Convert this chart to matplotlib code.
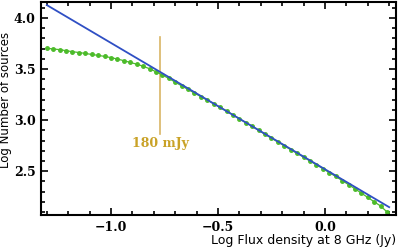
import matplotlib
matplotlib.use('Agg')
import matplotlib.pyplot as plt
from matplotlib.ticker import MultipleLocator

# power-law fit (blue)
x_fit = [-1.30, 0.30]
y_fit = [4.127, 2.147]

# source counts (green)
x_counts = [-1.30, -1.27, -1.24, -1.21, -1.18, -1.15, -1.12, -1.09, -1.06, -1.03,
            -1.00, -0.97, -0.94, -0.91, -0.88, -0.85, -0.82, -0.79, -0.76, -0.73,
            -0.70, -0.67, -0.64, -0.61, -0.58, -0.55, -0.52, -0.49, -0.46, -0.43,
            -0.40, -0.37, -0.34, -0.31, -0.28, -0.25, -0.22, -0.19, -0.16, -0.13,
            -0.10, -0.07, -0.04, -0.01, 0.02, 0.05, 0.08, 0.11, 0.14, 0.17,
            0.20, 0.23, 0.26, 0.29]
y_counts = [3.703, 3.697, 3.690, 3.680, 3.670, 3.662, 3.653, 3.643, 3.634, 3.624,
            3.612, 3.598, 3.582, 3.565, 3.548, 3.528, 3.503, 3.474, 3.442, 3.408,
            3.372, 3.336, 3.300, 3.265, 3.230, 3.196, 3.160, 3.126, 3.090, 3.052,
            3.014, 2.975, 2.940, 2.900, 2.860, 2.823, 2.785, 2.748, 2.710, 2.674,
            2.637, 2.600, 2.562, 2.525, 2.486, 2.448, 2.408, 2.368, 2.327, 2.285,
            2.242, 2.200, 2.158, 2.100]

x_cut = -0.77
y_cut = [2.865, 3.815]
cut_label = '180 mJy'

fig = plt.figure(figsize=(3.99, 2.49), dpi=100)
ax = fig.add_axes([0.1028, 0.1365, 0.8897, 0.8555])

ax.plot(x_counts, y_counts, '-o', color='#4cbb2a', lw=0.9, markersize=2.5, zorder=2)
ax.plot(x_fit, y_fit, '-', color='#2f4fc4', lw=1.3, zorder=3)
ax.plot([x_cut, x_cut], y_cut, '-', color='#d9b565', lw=1.2, zorder=1)
ax.text(x_cut, 2.775, cut_label, color='#c9a227', fontsize=9, fontweight='bold',
        family='DejaVu Serif', ha='center', va='center')

ax.set_xlim(-1.327, 0.332)
ax.set_ylim(2.07, 4.157)
ax.xaxis.set_major_locator(MultipleLocator(0.5))
ax.xaxis.set_minor_locator(MultipleLocator(0.1))
ax.yaxis.set_major_locator(MultipleLocator(0.5))
ax.yaxis.set_minor_locator(MultipleLocator(0.1))
ax.tick_params(which='both', direction='in', top=True, right=True, width=1.2)
ax.tick_params(which='major', length=5, pad=4)
ax.tick_params(which='minor', length=3)
for lab in ax.get_xticklabels() + ax.get_yticklabels():
    lab.set_family('DejaVu Serif')
    lab.set_fontweight('bold')
    lab.set_fontsize(9)
for s in ax.spines.values():
    s.set_linewidth(1.5)

ax.set_xlabel('Log Flux density at 8 GHz (Jy)', fontsize=9, loc='right', labelpad=0)
ax.set_ylabel('Log Number of sources', fontsize=8.5)
ax.yaxis.set_label_coords(-0.083, 0.54)

plt.savefig('out.png', dpi=100)
